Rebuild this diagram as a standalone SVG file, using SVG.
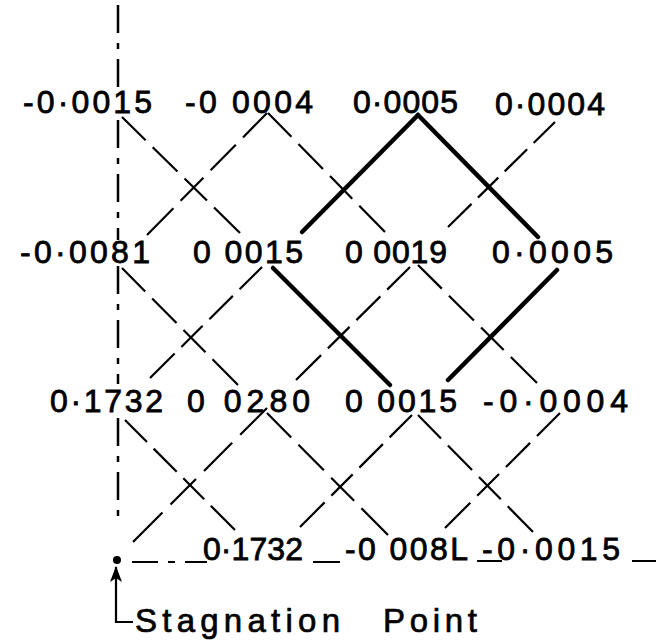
<svg xmlns="http://www.w3.org/2000/svg" width="656" height="644" viewBox="0 0 656 644">
<defs>
<marker id="ah" viewBox="0 0 16 12" refX="15" refY="6" markerWidth="16" markerHeight="12" markerUnits="userSpaceOnUse" orient="auto">
<path d="M16,6 L0,0 L4,6 L0,12 Z" fill="#000"/>
</marker>
</defs>
<style>
.bg{fill:#fff}
.t{font-family:"Liberation Sans",Arial,sans-serif;font-size:32px;fill:#000;stroke:#000;stroke-width:0.8}
.lbl{font-family:"Liberation Sans",Arial,sans-serif;font-size:33px;fill:#000;stroke:#000;stroke-width:0.7}
.d{fill:none;stroke:#000;stroke-width:2.2;stroke-dasharray:20 6 21 6 19 6 22;stroke-linecap:butt}
.k{fill:none;stroke:#000;stroke-width:4.5;stroke-linecap:round}
.c{fill:none;stroke:#000;stroke-width:2.5;stroke-dasharray:28 10 6 10}
.s{fill:none;stroke:#000;stroke-width:2.2}
</style>
<rect class="bg" x="0" y="0" width="656" height="644"/>
<g id="connectors">
<path class="c" d="M118,5 V97 M118,120 V240 M118,266 V384 M118,418 V522"/>
<path class="s" d="M132,562 H158 M168,562 H175 M185,562 H207 M313,562 H340 M477,561 H502 M632,561 H656"/>
<path class="d" pathLength="100" d="M122,117 L240,233"/>
<path class="d" pathLength="100" d="M267,113 L147,235"/>
<path class="d" pathLength="100" d="M268,113 L385,232"/>
<path class="k" d="M418,115 L302,232"/>
<path class="k" d="M418,115 L538,237"/>
<path class="d" pathLength="100" d="M555,122 L448,227"/>
<path class="d" pathLength="100" d="M122,268 L238,385"/>
<path class="d" pathLength="100" d="M262,267 L150,378"/>
<path class="k" d="M273,268 L390,385"/>
<path class="d" pathLength="100" d="M410,267 L296,380"/>
<path class="d" pathLength="100" d="M418,265 L537,383"/>
<path class="k" d="M557,270 L448,380"/>
<path class="d" pathLength="100" d="M125,420 L235,530"/>
<path class="d" pathLength="100" d="M267,408 L133,542"/>
<path class="d" pathLength="100" d="M267,413 L388,535"/>
<path class="d" pathLength="100" d="M412,415 L300,527"/>
<path class="d" pathLength="100" d="M418,415 L533,532"/>
<path class="d" pathLength="100" d="M560,413 L445,528"/>
</g>
<g id="n-r1c1"><text class="t" x="23" y="113" textLength="129" lengthAdjust="spacing">-0·0015</text></g>
<g id="n-r1c2"><text class="t" x="185" y="113" textLength="128" lengthAdjust="spacing">-0 0004</text></g>
<g id="n-r1c3"><text class="t" x="353" y="113" textLength="105" lengthAdjust="spacing">0·0005</text></g>
<g id="n-r1c4"><text class="t" x="495" y="115" textLength="110" lengthAdjust="spacing">0·0004</text></g>
<g id="n-r2c1"><text class="t" x="20" y="263" textLength="130" lengthAdjust="spacing">-0·0081</text></g>
<g id="n-r2c2"><text class="t" x="193" y="263" textLength="110" lengthAdjust="spacing">0 0015</text></g>
<g id="n-r2c3"><text class="t" x="345" y="263" textLength="102" lengthAdjust="spacing">0 0019</text></g>
<g id="n-r2c4"><text class="t" x="492" y="263" textLength="121" lengthAdjust="spacing">0·0005</text></g>
<g id="n-r3c1"><text class="t" x="50" y="412" textLength="113" lengthAdjust="spacing">0·1732</text></g>
<g id="n-r3c2"><text class="t" x="187" y="412" textLength="123" lengthAdjust="spacing">0 0280</text></g>
<g id="n-r3c3"><text class="t" x="345" y="412" textLength="112" lengthAdjust="spacing">0 0015</text></g>
<g id="n-r3c4"><text class="t" x="483" y="412" textLength="145" lengthAdjust="spacing">-0·0004</text></g>
<g id="n-r4c2"><text class="t" x="203" y="560" textLength="100" lengthAdjust="spacing">0·1732</text></g>
<g id="n-r4c3"><text class="t" x="345" y="560" textLength="123" lengthAdjust="spacing">-0 008L</text></g>
<g id="n-r4c4"><text class="t" x="482" y="560" textLength="138" lengthAdjust="spacing">-0·0015</text></g>
<g id="stagnation">
<circle cx="117" cy="560" r="4" fill="#000"/>
<path class="s" d="M133,622 H116 V567" marker-end="url(#ah)"/>
<text class="lbl" x="135" y="632" textLength="205" lengthAdjust="spacing">Stagnation</text>
<text class="lbl" x="383" y="632" textLength="94" lengthAdjust="spacing">Point</text>
</g>
</svg>
